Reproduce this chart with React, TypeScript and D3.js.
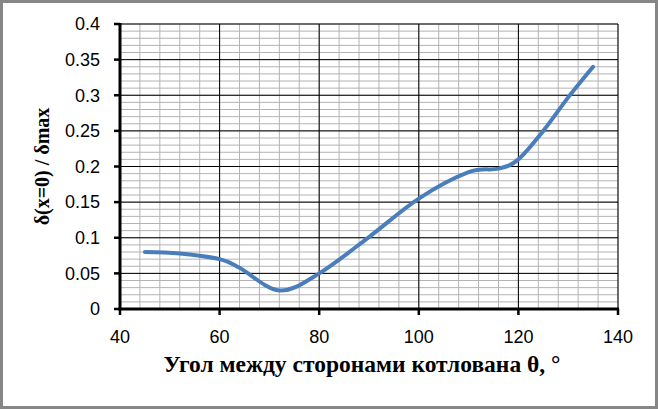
import React from "react";
import * as d3 from "d3";

const angles = [45, 52, 60, 64, 72, 80, 90, 100, 110, 116, 120, 125, 130, 135];
const ratios = [0.08, 0.078, 0.07, 0.058, 0.026, 0.05, 0.101, 0.155, 0.192, 0.197, 0.21, 0.25, 0.297, 0.34];
const xTicks = [40, 60, 80, 100, 120, 140];
const yTicks = [0, 0.05, 0.1, 0.15, 0.2, 0.25, 0.3, 0.35, 0.4];
const xTitle = "Угол между сторонами котлована θ, °";
const yTitle = "δ(x=0) / δmax";

export default function App() {
  const W = 658, H = 409;
  const x = d3.scaleLinear().domain([40, 140]).range([120, 618]);
  const y = d3.scaleLinear().domain([0, 0.4]).range([309, 24]);
  const xMinor = d3.range(40, 140.01, 4);
  const yMinor = d3.range(0, 0.4001, 0.01);
  const line = d3
    .line<number>()
    .x((_, i) => x(angles[i]))
    .y((d) => y(d))
    .curve(d3.curveCardinal.tension(0));
  const path = line(ratios) || "";
  const tickFont = "'Liberation Sans', Arial, sans-serif";
  const titleFont = "'Liberation Serif', 'Times New Roman', serif";
  return (
    <svg width={W} height={H} style={{ position: "absolute", left: 0, top: 0 }}>
      <rect x={0} y={0} width={W} height={H} fill="#fff" />
      <rect x={1.5} y={1.5} width={W - 3} height={H - 3} fill="none" stroke="#868686" strokeWidth={3} />
      {xMinor.map((v, i) => (
        <line key={"xm" + i} x1={x(v)} x2={x(v)} y1={y(0)} y2={y(0.4)} stroke="#b3b3b3" strokeWidth={1} />
      ))}
      {yMinor.map((v, i) => (
        <line key={"ym" + i} x1={x(40)} x2={x(140)} y1={y(v)} y2={y(v)} stroke="#b3b3b3" strokeWidth={1} />
      ))}
      {xTicks.map((v) => (
        <line key={"xg" + v} x1={x(v)} x2={x(v)} y1={y(0)} y2={y(0.4)} stroke="#000" strokeWidth={1} />
      ))}
      {yTicks.map((v) => (
        <line key={"yg" + v} x1={x(40)} x2={x(140)} y1={y(v)} y2={y(v)} stroke="#000" strokeWidth={1} />
      ))}
      <line x1={x(40)} x2={x(40)} y1={y(0.4) - 1} y2={y(0) + 1.5} stroke="#000" strokeWidth={3} />
      <line x1={x(40) - 1.5} x2={x(140) + 1} y1={y(0)} y2={y(0)} stroke="#000" strokeWidth={3} />
      {yTicks.map((v) => (
        <line key={"yt" + v} x1={x(40) - 6} x2={x(40)} y1={y(v)} y2={y(v)} stroke="#000" strokeWidth={2.5} />
      ))}
      {xTicks.map((v) => (
        <line key={"xt" + v} x1={x(v)} x2={x(v)} y1={y(0)} y2={y(0) + 6} stroke="#000" strokeWidth={2.5} />
      ))}
      {yTicks.map((v) => (
        <text key={"yl" + v} x={100} y={y(v)} dy="0.35em" textAnchor="end" fontFamily={tickFont} fontSize={18} fill="#000">
          {String(v)}
        </text>
      ))}
      {xTicks.map((v) => (
        <text key={"xl" + v} x={x(v)} y={343} textAnchor="middle" fontFamily={tickFont} fontSize={18} fill="#000">
          {String(v)}
        </text>
      ))}
      <path d={path} fill="none" stroke="#4a7ebb" strokeWidth={4} strokeLinecap="round" />
      <text x={362} y={372} textAnchor="middle" fontFamily={titleFont} fontWeight="bold" fontSize={23.5} fill="#000">
        {xTitle}
      </text>
      <text
        transform={`translate(49, ${(y(0) + y(0.4)) / 2}) rotate(-90)`}
        textAnchor="middle"
        fontFamily={titleFont}
        fontWeight="bold"
        fontSize={20}
        fill="#000"
      >
        {yTitle}
      </text>
    </svg>
  );
}
